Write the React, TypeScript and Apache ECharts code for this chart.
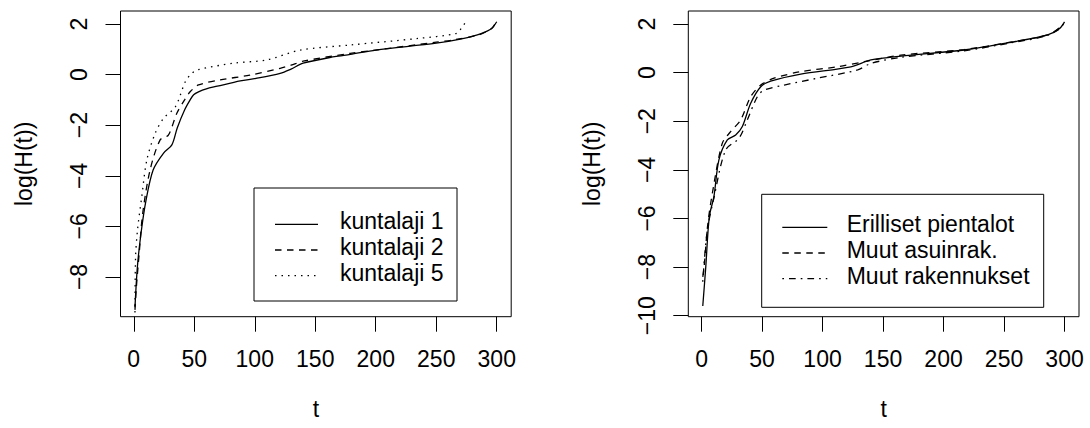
import React, { useEffect, useRef } from "react";
import * as echarts from "echarts";

// ---------- data ----------
const xTicks = [0, 50, 100, 150, 200, 250, 300];
const yTicksLeft = [-8, -6, -4, -2, 0, 2];
const yTicksRight = [-10, -8, -6, -4, -2, 0, 2];

const leftNames = ["kuntalaji 1", "kuntalaji 2", "kuntalaji 5"];
const rightNames = ["Erilliset pientalot", "Muut asuinrak.", "Muut rakennukset"];

const k1T = [1, 3, 6, 10, 16, 24.5, 31.5, 36, 42, 46.6, 49.5, 53.5, 60, 69, 88, 101, 121, 130, 140, 166, 179, 200, 250, 270, 284, 292, 296, 300];
const k1V = [-9.2, -7.6, -6.27, -5.0, -3.77, -3.11, -2.78, -2.1, -1.4, -1.0, -0.8, -0.68, -0.56, -0.46, -0.25, -0.15, 0.05, 0.22, 0.45, 0.71, 0.8, 0.97, 1.24, 1.4, 1.57, 1.72, 1.83, 2.09];

const k2T = [1, 2.2, 4.5, 7.4, 13.5, 21.8, 28.6, 35.6, 42, 46.6, 53.5, 71.5, 96, 121, 130, 140, 179, 200, 250, 264, 285, 296, 299];
const k2V = [-9.3, -8.38, -7.06, -5.48, -3.77, -2.58, -2.39, -1.53, -1.0, -0.68, -0.41, -0.21, -0.02, 0.25, 0.37, 0.53, 0.84, 0.97, 1.28, 1.37, 1.57, 1.83, 2.05];

const k5T = [1, 1.5, 3.1, 6.6, 10.8, 17.7, 24.6, 34.4, 42.6, 47, 52.2, 82.5, 110, 137.7, 179, 235, 267, 271, 274];
const k5V = [-9.4, -7.2, -6.14, -4.83, -3.38, -2.32, -1.73, -1.27, -0.28, 0.0, 0.18, 0.45, 0.58, 0.97, 1.17, 1.43, 1.63, 1.85, 2.05];

const epT = [1, 3.5, 6.4, 10.2, 14.3, 21.3, 28.2, 33.7, 40.6, 48.9, 57.1, 82, 123.4, 140, 164.8, 217, 254, 286, 296, 300];
const epV = [-9.6, -7.98, -5.93, -5.1, -3.6, -2.77, -2.57, -2.22, -1.26, -0.58, -0.35, -0.06, 0.24, 0.52, 0.68, 0.93, 1.23, 1.55, 1.82, 2.09];

const maT = [1, 2.1, 5, 8.8, 17.1, 24, 32.3, 40.6, 48.9, 59.9, 82, 112.3, 134.4, 164.8, 217, 254, 286, 296, 299];
const maV = [-8.4, -8.0, -6.3, -5.0, -2.91, -2.43, -1.95, -0.99, -0.51, -0.23, 0.04, 0.24, 0.45, 0.72, 0.95, 1.24, 1.55, 1.8, 2.0];

const mrT = [1, 2.5, 5, 10, 19.9, 30.9, 37.8, 46.1, 51.7, 68.3, 95.8, 129, 140, 164.8, 217, 254, 286, 297];
const mrV = [-8.6, -7.6, -6.4, -5.2, -3.18, -2.7, -1.95, -0.99, -0.72, -0.51, -0.23, 0.11, 0.38, 0.63, 0.9, 1.21, 1.53, 1.9];

// ---------- styling ----------
const FONT = "'Liberation Sans', Arial, Helvetica, sans-serif";
const FS = 23;
const dashSolid: number[] | null = null;
const dashDashed = [6.5, 5.5];
const dashDotted = [1.5, 5];
const dashDotDash = [1.7, 5, 6.7, 5];

const zip = (t: number[], v: number[]) => t.map((x, i) => [x, v[i]]);
const minusFmt = (v: number) => String(v).replace("-", "\u2212");

function xAxisFor(gridIndex: number) {
  return {
    gridIndex,
    type: "value",
    min: -10.96,
    max: 311.96,
    axisLine: { show: false, onZero: false },
    axisTick: { show: true, length: 15, inside: false, customValues: xTicks, lineStyle: { color: "#000", width: 1 } },
    axisLabel: { customValues: xTicks, fontSize: FS, color: "#000", fontFamily: FONT, margin: 31, formatter: minusFmt },
    splitLine: { show: false },
    name: "t",
    nameLocation: "middle",
    nameGap: 81,
    nameTextStyle: { fontSize: FS, color: "#000", fontFamily: FONT },
  };
}

function yAxisFor(gridIndex: number, min: number, max: number, ticks: number[]) {
  return {
    gridIndex,
    type: "value",
    min,
    max,
    axisLine: { show: false, onZero: false },
    axisTick: { show: true, length: 15, inside: false, customValues: ticks, lineStyle: { color: "#000", width: 1 } },
    axisLabel: { customValues: ticks, fontSize: FS, color: "#000", fontFamily: FONT, rotate: 90, margin: 30, formatter: minusFmt },
    splitLine: { show: false },
    name: "log(H(t))",
    nameLocation: "middle",
    nameGap: 85,
    nameTextStyle: { fontSize: FS, color: "#000", fontFamily: FONT },
  };
}

function lineSeries(name: string, t: number[], v: number[], idx: number, dash: number[] | null) {
  return {
    name,
    type: "line",
    xAxisIndex: idx,
    yAxisIndex: idx,
    data: zip(t, v),
    symbol: "none",
    smooth: 0.3,
    lineStyle: { color: "#000", width: 1.3, type: dash ? dash : "solid" },
    emphasis: { disabled: true },
  };
}

function legendGraphic(x: number, y: number, w: number, h: number, names: string[], dashes: (number[] | null)[], lx0: number, lx1: number, tx: number, rows: number[]) {
  const children: any[] = [
    { type: "rect", shape: { x, y, width: w, height: h }, style: { fill: "#fff", stroke: "#000", lineWidth: 1 } },
  ];
  names.forEach((n, i) => {
    children.push({
      type: "line",
      shape: { x1: lx0, y1: rows[i], x2: lx1, y2: rows[i] },
      style: { stroke: "#000", lineWidth: 1.3, lineDash: dashes[i] || undefined },
    });
    children.push({
      type: "text",
      x: tx,
      y: rows[i] - 3,
      style: { text: n, fontSize: FS, fontFamily: FONT, fill: "#000", verticalAlign: "middle", align: "left" },
    });
  });
  return { type: "group", children };
}

export default function App() {
  const ref = useRef<HTMLDivElement>(null);
  useEffect(() => {
    if (!ref.current) return;
    const chart = echarts.init(ref.current, null, { renderer: "svg" });
    const gridStyle = { show: true, borderColor: "#000", borderWidth: 1, backgroundColor: "transparent" };
    chart.setOption({
      animation: false,
      textStyle: { fontFamily: FONT },
      grid: [
        { ...gridStyle, left: 120.5, top: 11, width: 390.7, height: 305.7 },
        { ...gridStyle, left: 688.3, top: 11, width: 390.7, height: 305.7 },
      ],
      xAxis: [xAxisFor(0), xAxisFor(1)],
      yAxis: [yAxisFor(0, -9.57, 2.514, yTicksLeft), yAxisFor(1, -10.04, 2.535, yTicksRight)],
      series: [
        lineSeries(leftNames[0], k1T, k1V, 0, dashSolid),
        lineSeries(leftNames[1], k2T, k2V, 0, dashDashed),
        lineSeries(leftNames[2], k5T, k5V, 0, dashDotted),
        lineSeries(rightNames[0], epT, epV, 1, dashSolid),
        lineSeries(rightNames[1], maT, maV, 1, dashDashed),
        lineSeries(rightNames[2], mrT, mrV, 1, dashDotDash),
      ],
      graphic: [
        legendGraphic(254, 188, 203, 113, leftNames, [null, dashDashed, dashDotted], 275, 318, 340, [224.3, 250, 275.7]),
        legendGraphic(761.7, 194.3, 282, 113, rightNames, [null, dashDashed, dashDotDash], 782.3, 827.3, 846.7, [227.3, 253, 278.7]),
      ],
    });
    return () => chart.dispose();
  }, []);
  return (
    <div
      ref={ref}
      style={{ position: "absolute", left: 0, top: 0, width: 1090, height: 428, background: "#fff" }}
    />
  );
}
